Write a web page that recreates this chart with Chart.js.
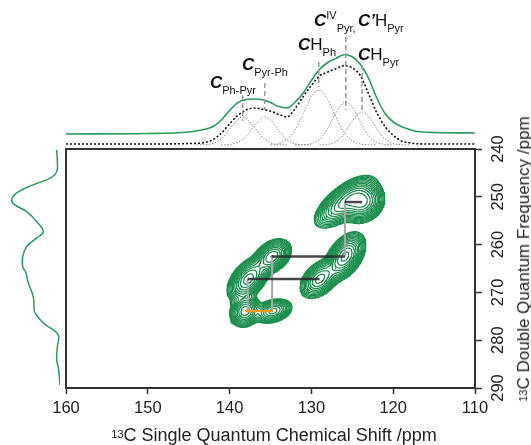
<!DOCTYPE html>
<html><head><meta charset="utf-8">
<script src="https://cdn.jsdelivr.net/npm/chart.js@4.4.1/dist/chart.umd.min.js"></script>
<style>
html,body{margin:0;padding:0;background:#fff;}
#wrap{position:relative;width:531px;height:445px;overflow:hidden;font-family:"Liberation Sans",Arial,sans-serif;color:#222;background:#fff;}
canvas{position:absolute;left:0;top:0;}
.lbl{position:absolute;font-size:17px;line-height:17px;white-space:nowrap;color:#111;}
.lbl b{font-weight:bold;font-style:italic;}
.sb{font-size:11px;position:relative;top:6px;}
.sp{font-size:11px;position:relative;top:-7px;}
.ttl{position:absolute;font-size:18px;line-height:16px;white-space:nowrap;color:#222;transform:translate(-50%,-50%);}
.ttl sup{font-size:11px;position:relative;top:-1px;vertical-align:top;}
</style></head>
<body><div id="wrap">
<canvas id="main" width="531" height="445"></canvas>
<canvas id="top" width="531" height="445"></canvas>
<canvas id="left" width="531" height="445"></canvas>
<div class="lbl" style="left:210px;top:73.6px"><b>C</b><span class="sb">Ph-Pyr</span></div>
<div class="lbl" style="left:242px;top:55.6px"><b>C</b><span class="sb">Pyr-Ph</span></div>
<div class="lbl" style="left:298px;top:35.6px"><b>C</b>H<span class="sb">Ph</span></div>
<div class="lbl" style="left:314px;top:11.6px"><b>C</b><span class="sp">IV</span><span class="sb">Pyr,</span></div>
<div class="lbl" style="left:358px;top:11.6px"><b>C’</b>H<span class="sb">Pyr</span></div>
<div class="lbl" style="left:358px;top:45.6px"><b>C</b>H<span class="sb">Pyr</span></div>
<div class="ttl" style="left:274px;top:435px"><sup>13</sup>C Single Quantum Chemical Shift /ppm</div>
<div class="ttl" style="left:524px;top:259px;font-size:17px;transform:translate(-50%,-50%) rotate(-90deg)"><sup>13</sup>C Double Quantum Frequency /ppm</div>
</div>
<script>
const FONT = '"Liberation Sans", Arial, sans-serif';
const GREEN = '#1a8e4b';
const GREEN_LINE = '#2c9a5c';

// ---------- top projection (13C SQ, ppm) ----------
const topSQ = [160,150,145,143,142,141,140,139,138,137,136,135,134,133,132,131,130,129,128,127,126,125,124,123,122,121,120,119,118,117,115,110];
const topObserved = [14,14.5,16,18.7,21.5,28,37.5,45.3,48.5,49,48.3,45.6,41.4,40,45.8,55,67.5,78.7,85.5,89.6,93.3,91.3,83.5,69.5,50,34.5,26,21.5,18.5,16.5,15.5,15];
const topFitSum = [4,4,4.5,5.5,8.5,14.9,24.3,32.5,37.9,40,38.7,36.8,33.6,31,39.3,51.5,62.7,72,76,79.3,82.4,80.1,72.3,54,35.3,21.5,12.8,7,5.2,4.2,4,4];

const compSQ_PhPyr = [144,143,142,141,140,139,138.4,138,137,136,135,134,133];
const compI_PhPyr  = [3,3.3,4.6,9.2,18.8,28.8,31,30,21.1,10.8,5.1,3.4,3];
const compSQ_PyrPh = [141,140,139,138,137,136,135.7,135,134,133,132,131,130];
const compI_PyrPh  = [3,3.5,5.5,11.6,22.2,30.4,31,28.1,17.7,8.5,4.3,3.2,3];
const compSQ_CHPh  = [135,134,133,132,131,130,129.1,128,127,126,125,124,123,122];
const compI_CHPh   = [3,4.3,8.3,18,34.5,51.5,58,48.6,30.9,15.5,7.1,4,3.2,3];
const compSQ_CIV   = [132,131,130,129,128,127,126,125.8,125,124,123,122,121,120];
const compI_CIV    = [3,3.2,4.4,8.8,19.7,35.5,45.7,46,40.9,25.8,12.3,5.6,3.5,3];
const compSQ_CHPyr = [129,128,127,126,125,124,123.8,123,122,121,120,119,118];
const compI_CHPyr  = [3,3.6,6.4,14.2,27,35.7,36,31.6,19.1,8.8,4.3,3.2,3];

const labelSQ = [138.4, 135.7, 129.1, 125.8, 123.8];
const labelLineTop = [53, 65, 86, 111, 83];
const labelLineBottom = [27, 38, 61, 38, 38];

// ---------- left projection (13C DQ, ppm) ----------
const leftDQ = [240.2,242.3,244.7,246.1,247.5,249.2,250.7,251.7,253.1,255.2,257.3,258.6,260.4,262.5,264.6,265.9,268.0,270.9,273.0,274.3,276.4,278.9,281.4,284.1,286.2,289.4];
const leftI  = [3.3,2.7,3.3,10,27,43.3,48.3,45,33.3,23.3,16.7,23.3,33.3,37.3,37.3,34,31.7,26.7,26,25,16.7,1.7,2.7,3.3,1.3,0];

// ---------- 2D peaks (SQ ppm, DQ ppm) ----------
const peakSQ  = [123.8, 125.9, 125.9, 129.0, 134.8, 137.7, 138.1, 134.7];
const peakDQ  = [251.1, 251.1, 262.5, 267.2, 262.5, 267.2, 273.9, 273.9];
const peakAmp = [1.0, 0.75, 1.0, 0.6, 0.9, 0.8, 0.65, 0.6];
const peakWidthSQ = [1.1, 1.55, 1.01, 1.03, 0.95, 1.07, 0.8, 1.0];
const peakWidthDQ = [1.75, 2.25, 2.04, 1.76, 1.5, 1.95, 1.45, 1.1];
const peakCorr    = [0.15, 0.67, 0.46, 0.41, 0.36, 0.48, 0.15, 0.3];
const contourLevels = [0.04, 0.05, 0.065, 0.085, 0.11, 0.143, 0.186, 0.241, 0.314, 0.408, 0.53, 0.69, 0.9];

// correlation lines
const pairDQ  = [251.1, 262.5, 267.2];
const pairSQa = [125.9, 134.8, 137.8];
const pairSQb = [123.8, 125.9, 129.0];
const linkSQ    = [125.9, 134.8, 137.8];
const linkDQtop = [251.1, 262.5, 267.2];
const linkDQbot = [262.5, 273.9, 273.9];
const orangeDQ  = [273.9, 273.9];
const orangeSQ  = [138.1, 134.7];

const zip = (xs, ys) => xs.map((x, i) => ({x, y: ys[i]}));

// ---------- field + marching squares ----------
function fieldAt(s, d) {
  let f = 0;
  for (let k = 0; k < peakSQ.length; k++) {
    const a = (s - peakSQ[k]) / peakWidthSQ[k];
    const b = (d - peakDQ[k]) / peakWidthDQ[k];
    const r = peakCorr[k];
    const q = (a * a - 2 * r * a * b + b * b) / (1 - r * r);
    f += peakAmp[k] * Math.exp(-0.5 * q);
  }
  return f;
}
const gx = [], gy = [];
for (let s = 143; s >= 117.99; s -= 0.1) gx.push(+s.toFixed(2));
for (let d = 242; d <= 286.01; d += 0.2) gy.push(+d.toFixed(2));
const F = gy.map(d => gx.map(s => fieldAt(s, d)));

function traceContours(xs, ys, F, level) {
  const nx = xs.length, ny = ys.length;
  const pts = new Map(), adj = new Map();
  const hKey = (i, j) => { const k = 'h' + i + '_' + j; if (!pts.has(k)) { const v1 = F[j][i], v2 = F[j][i + 1], t = (level - v1) / (v2 - v1); pts.set(k, {x: xs[i] + t * (xs[i + 1] - xs[i]), y: ys[j]}); } return k; };
  const vKey = (i, j) => { const k = 'v' + i + '_' + j; if (!pts.has(k)) { const v1 = F[j][i], v2 = F[j + 1][i], t = (level - v1) / (v2 - v1); pts.set(k, {x: xs[i], y: ys[j] + t * (ys[j + 1] - ys[j])}); } return k; };
  const link = (a, b) => { if (!adj.has(a)) adj.set(a, []); if (!adj.has(b)) adj.set(b, []); adj.get(a).push(b); adj.get(b).push(a); };
  for (let j = 0; j < ny - 1; j++) for (let i = 0; i < nx - 1; i++) {
    const p0 = F[j][i], p1 = F[j][i + 1], p2 = F[j + 1][i + 1], p3 = F[j + 1][i];
    const idx = (p0 >= level ? 1 : 0) | (p1 >= level ? 2 : 0) | (p2 >= level ? 4 : 0) | (p3 >= level ? 8 : 0);
    if (idx === 0 || idx === 15) continue;
    const e0 = () => hKey(i, j), e1 = () => vKey(i + 1, j), e2 = () => hKey(i, j + 1), e3 = () => vKey(i, j);
    switch (idx) {
      case 1: case 14: link(e3(), e0()); break;
      case 2: case 13: link(e0(), e1()); break;
      case 3: case 12: link(e3(), e1()); break;
      case 4: case 11: link(e1(), e2()); break;
      case 6: case 9: link(e0(), e2()); break;
      case 7: case 8: link(e2(), e3()); break;
      case 5: { const c = (p0 + p1 + p2 + p3) / 4; if (c >= level) { link(e0(), e1()); link(e2(), e3()); } else { link(e3(), e0()); link(e1(), e2()); } break; }
      case 10: { const c = (p0 + p1 + p2 + p3) / 4; if (c >= level) { link(e3(), e0()); link(e1(), e2()); } else { link(e0(), e1()); link(e2(), e3()); } break; }
    }
  }
  const visited = new Set(); const out = [];
  const walk = (start) => {
    const chain = [start]; visited.add(start);
    let prev = null, cur = start;
    while (true) {
      const nb = adj.get(cur).filter(k => k !== prev && !visited.has(k));
      if (!nb.length) break;
      prev = cur; cur = nb[0]; visited.add(cur); chain.push(cur);
    }
    if (chain.length > 2 && adj.get(cur).includes(start)) chain.push(start);
    chain.forEach(k => out.push(pts.get(k)));
    out.push({x: pts.get(start).x, y: null});
  };
  for (const [k, nb] of adj) if (nb.length === 1 && !visited.has(k)) walk(k);
  for (const k of adj.keys()) if (!visited.has(k)) walk(k);
  return out;
}

const common = {responsive: false, animation: false, devicePixelRatio: 1, events: [],
  plugins: {legend: {display: false}, tooltip: {enabled: false}}};

// ---------- main chart ----------
const mainSets = [];
contourLevels.forEach(L => mainSets.push({data: traceContours(gx, gy, F, L), showLine: true, borderColor: GREEN,
  borderWidth: 1.2, pointRadius: 0, spanGaps: false, order: 10}));
linkSQ.forEach((s, i) => mainSets.push({data: [{x: s, y: linkDQtop[i]}, {x: s, y: linkDQbot[i]}], showLine: true,
  borderColor: '#a8a8a8', borderWidth: 2, pointRadius: 0, order: 3}));
pairDQ.forEach((d, i) => mainSets.push({data: [{x: pairSQa[i], y: d}, {x: pairSQb[i], y: d}], showLine: true,
  borderColor: 'rgba(40,40,40,0.85)', borderWidth: 2.5, pointRadius: 0, order: 2}));
mainSets.push({data: zip(orangeSQ, orangeDQ), showLine: true, borderColor: '#f39a1d', borderWidth: 2.5, pointRadius: 0, order: 1});

const framePlugin = {id: 'frame', afterDraw(chart) {
  const {ctx, chartArea: a} = chart; const y = chart.scales.y;
  ctx.save(); ctx.strokeStyle = '#333'; ctx.lineWidth = 2;
  ctx.strokeRect(a.left, a.top, a.right - a.left, a.bottom - a.top);
  ctx.fillStyle = '#222'; ctx.font = '16.5px ' + FONT; ctx.textAlign = 'center'; ctx.textBaseline = 'alphabetic';
  y.ticks.forEach(t => { const py = y.getPixelForValue(t.value); ctx.save(); ctx.translate(y.left + 28, py);
    ctx.rotate(-Math.PI / 2); ctx.fillText(String(t.value), 0, 0); ctx.restore(); });
  ctx.restore();
}};

new Chart(document.getElementById('main'), {type: 'scatter', data: {datasets: mainSets},
  options: Object.assign({}, common, {
    layout: {padding: {left: 66, top: 149, right: 0, bottom: 0}},
    scales: {
      x: {type: 'linear', min: 110, max: 160, reverse: true, position: 'bottom', afterFit: s => { s.height = 57; },
        ticks: {stepSize: 10, color: '#222', font: {family: FONT, size: 16.5}, padding: 5, maxRotation: 0},
        grid: {display: true, drawOnChartArea: false, drawTicks: true, tickLength: 6, tickWidth: 1.5, tickColor: '#333'},
        border: {display: true, color: '#333', width: 2}},
      y: {type: 'linear', min: 240, max: 290, reverse: true, position: 'right', afterFit: s => { s.width = 56; },
        ticks: {stepSize: 10, display: false},
        grid: {display: true, drawOnChartArea: false, drawTicks: true, tickLength: 7, tickWidth: 1.5, tickColor: '#333'},
        border: {display: true, color: '#333', width: 2}}
    }}), plugins: [framePlugin]});

// ---------- top projection ----------
const topSets = [
  {data: zip(topSQ, topObserved), borderColor: GREEN_LINE, borderWidth: 1.6, order: 1},
  {data: zip(topSQ, topFitSum), borderColor: '#111', borderWidth: 1.6, borderDash: [2, 2], order: 2},
  {data: zip(compSQ_PhPyr, compI_PhPyr), borderColor: '#8a8a8a', borderWidth: 1, borderDash: [1.5, 1.5], order: 4},
  {data: zip(compSQ_PyrPh, compI_PyrPh), borderColor: '#8a8a8a', borderWidth: 1, borderDash: [1.5, 1.5], order: 4},
  {data: zip(compSQ_CHPh, compI_CHPh), borderColor: '#8a8a8a', borderWidth: 1, borderDash: [1.5, 1.5], order: 4},
  {data: zip(compSQ_CIV, compI_CIV), borderColor: '#8a8a8a', borderWidth: 1, borderDash: [1.5, 1.5], order: 4},
  {data: zip(compSQ_CHPyr, compI_CHPyr), borderColor: '#8a8a8a', borderWidth: 1, borderDash: [1.5, 1.5], order: 4}
];
labelSQ.forEach((s, i) => topSets.push({data: [{x: s, y: labelLineTop[i]}, {x: s, y: labelLineBottom[i]}],
  borderColor: '#9a9a9a', borderWidth: 1.5, borderDash: [5, 3], order: 0, tension: 0}));
topSets.forEach(d => { d.showLine = true; d.pointRadius = 0; if (d.tension === undefined) { d.cubicInterpolationMode = 'monotone'; } });

new Chart(document.getElementById('top'), {type: 'scatter', data: {datasets: topSets},
  options: Object.assign({}, common, {
    layout: {padding: {left: 66, right: 56, top: 20, bottom: 297}},
    scales: {x: {type: 'linear', min: 110, max: 160, reverse: true, display: false},
             y: {type: 'linear', min: 0, max: 128, display: false}}})});

// ---------- left projection ----------
new Chart(document.getElementById('left'), {type: 'scatter',
  data: {datasets: [{data: zip(leftI, leftDQ), showLine: true, borderColor: GREEN_LINE, borderWidth: 1.5, pointRadius: 0, tension: 0.4}]},
  options: Object.assign({}, common, {
    layout: {padding: {left: 0, right: 471, top: 149, bottom: 57}},
    scales: {x: {type: 'linear', min: 0, max: 60, reverse: true, display: false},
             y: {type: 'linear', min: 240, max: 290, reverse: true, display: false}}})});
</script>
</body></html>
